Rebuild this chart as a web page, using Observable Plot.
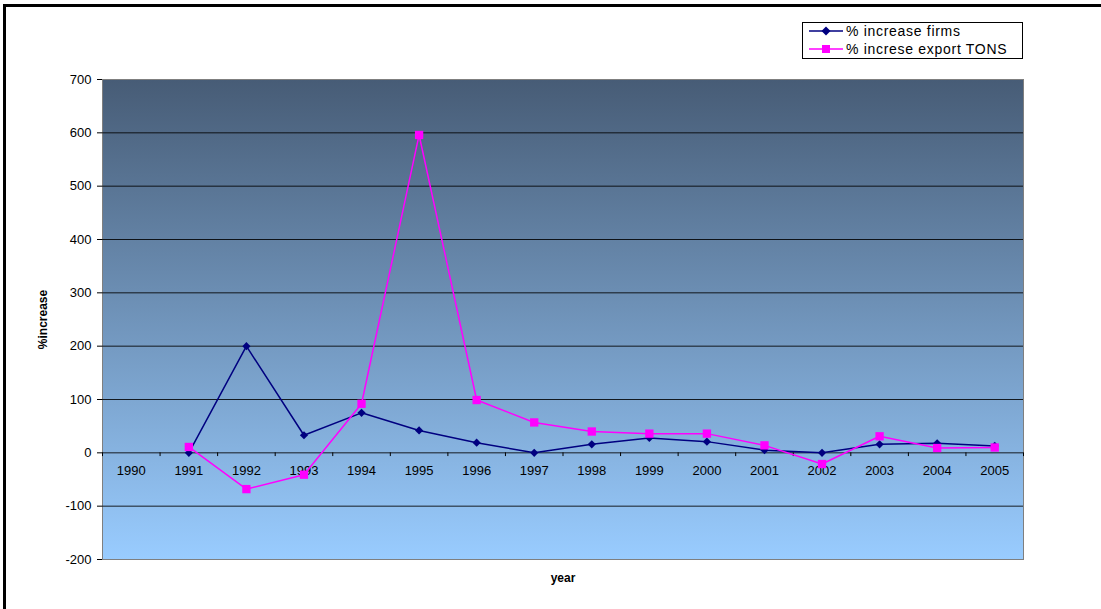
<!DOCTYPE html>
<html>
<head>
<meta charset="utf-8">
<script src="https://cdn.jsdelivr.net/npm/d3@7"></script>
<script src="https://cdn.jsdelivr.net/npm/@observablehq/plot@0.6"></script>
<style>
  html, body { margin: 0; padding: 0; background: #fff; }
  #wrap { position: relative; width: 1101px; height: 609px; overflow: hidden; font-family: "Liberation Sans", Arial, sans-serif; }
  #wrap svg.chart { position: absolute; left: 0; top: 0; }
  #border { position: absolute; left: 3px; top: 4px; right: -10px; bottom: -10px; border-left: 3px solid #000; border-top: 3px solid #000; pointer-events: none; }
  #legend { position: absolute; left: 802px; top: 22px; width: 219px; height: 35px; border: 1px solid #000; background: #fff; font-size: 14px; letter-spacing: 0.7px; }
  #legend .row { position: absolute; left: 0; height: 16px; width: 100%; }
  #legend svg { position: absolute; left: 6px; top: 0; }
  #legend span { position: absolute; left: 43px; top: 0; line-height: 16px; white-space: nowrap; color: #000; }
</style>
</head>
<body>
<div id="wrap">
  <div id="legend"></div>
  <div id="border"></div>
</div>
<script>
const years = [1990,1991,1992,1993,1994,1995,1996,1997,1998,1999,2000,2001,2002,2003,2004,2005];
const firms = [null,0,200,33,75,42,19,0,16,28,21,5,0,16,18,13];
const exportTons = [null,11,-68,-41,92,596,99,57,40,36,36,14,-21,31,9,10];
const seriesNames = ["% increase firms", "% increse export TONS"];
const yTicks = [-200,-100,0,100,200,300,400,500,600,700];
const yLabel = "%increase";
const xLabel = "year";

const colors = {firms: "#000080", exports: "#ff00ff"};

const firmRows = years.map((y, i) => ({year: y, v: firms[i]})).filter(d => d.v != null);
const expRows = years.map((y, i) => ({year: y, v: exportTons[i]})).filter(d => d.v != null);
const bounds = years.map(y => y - 0.5).concat([years[years.length - 1] + 0.5]);
const gridVals = yTicks.filter(v => v !== yTicks[0] && v !== yTicks[yTicks.length - 1]);

const chart = Plot.plot({
  width: 1101,
  height: 609,
  marginLeft: 102,
  marginRight: 78,
  marginTop: 79,
  marginBottom: 50,
  style: {fontFamily: "'Liberation Sans', Arial, sans-serif", fontSize: "13px", color: "#000", background: "transparent"},
  x: {type: "linear", domain: [years[0] - 0.5, years[years.length - 1] + 0.5], axis: null},
  y: {domain: [yTicks[0], yTicks[yTicks.length - 1]], axis: null},
  marks: [
    Plot.frame({fill: "url(#bgGrad)", stroke: "#7f7f7f", strokeWidth: 1}),
    Plot.ruleY(gridVals, {stroke: "#000", strokeWidth: 1, strokeOpacity: 0.85}),
    Plot.ruleX(bounds, {x: d => d, y1: 0, y2: -7, stroke: "#000", strokeWidth: 1}),
    Plot.axisY({ticks: yTicks, tickSize: 5, tickPadding: 6, label: null, tickFormat: d => String(d), fontSize: 13, style: "letter-spacing:0.8px"}),
    Plot.text(years, {x: d => d, y: 0, dy: 18, text: d => String(d), fontSize: 13, fill: "#000", style: "letter-spacing:0.6px"}),
    Plot.line(firmRows, {x: "year", y: "v", stroke: colors.firms, strokeWidth: 1.5}),
    Plot.dot(firmRows, {x: "year", y: "v", symbol: "diamond2", r: 3.7, fill: colors.firms, stroke: "none"}),
    Plot.line(expRows, {x: "year", y: "v", stroke: colors.exports, strokeWidth: 1.5}),
    Plot.dot(expRows, {x: "year", y: "v", symbol: "square", r: 4.7, fill: colors.exports, stroke: "none"}),
    Plot.text([yLabel], {frameAnchor: "left", dx: -59, textAnchor: "middle", rotate: -90, text: d => d, fontWeight: "bold", fontSize: 12, fill: "#000"}),
    Plot.text([xLabel], {frameAnchor: "bottom", dy: 22, textAnchor: "middle", text: d => d, fontWeight: "bold", fontSize: 12, fill: "#000"})
  ]
});
chart.classList.add("chart");
const ns = "http://www.w3.org/2000/svg";
const defs = document.createElementNS(ns, "defs");
const grad = document.createElementNS(ns, "linearGradient");
grad.setAttribute("id", "bgGrad");
grad.setAttribute("x1", "0"); grad.setAttribute("y1", "0");
grad.setAttribute("x2", "0"); grad.setAttribute("y2", "1");
[["0%", "#475c76"], ["100%", "#99ccff"]].forEach(([o, c]) => {
  const s = document.createElementNS(ns, "stop");
  s.setAttribute("offset", o); s.setAttribute("stop-color", c);
  grad.appendChild(s);
});
defs.appendChild(grad);
chart.insertBefore(defs, chart.firstChild);
const wrap = document.getElementById("wrap");
wrap.insertBefore(chart, wrap.firstChild);

// legend
const legend = document.getElementById("legend");
[[seriesNames[0], colors.firms, "diamond"], [seriesNames[1], colors.exports, "square"]].forEach(([name, col, sym], i) => {
  const row = document.createElement("div");
  row.className = "row";
  row.style.top = (i === 0 ? 0 : 18) + "px";
  const marker = sym === "diamond"
    ? `<path d="M17,3.5 L21.5,8 L17,12.5 L12.5,8 Z" fill="${col}"/>`
    : `<rect x="13" y="4" width="8" height="8" fill="${col}"/>`;
  row.innerHTML = `<svg width="36" height="16"><line x1="0" y1="8" x2="34" y2="8" stroke="${col}" stroke-width="1.5"/>${marker}</svg><span>${name}</span>`;
  legend.appendChild(row);
});
</script>
</body>
</html>
